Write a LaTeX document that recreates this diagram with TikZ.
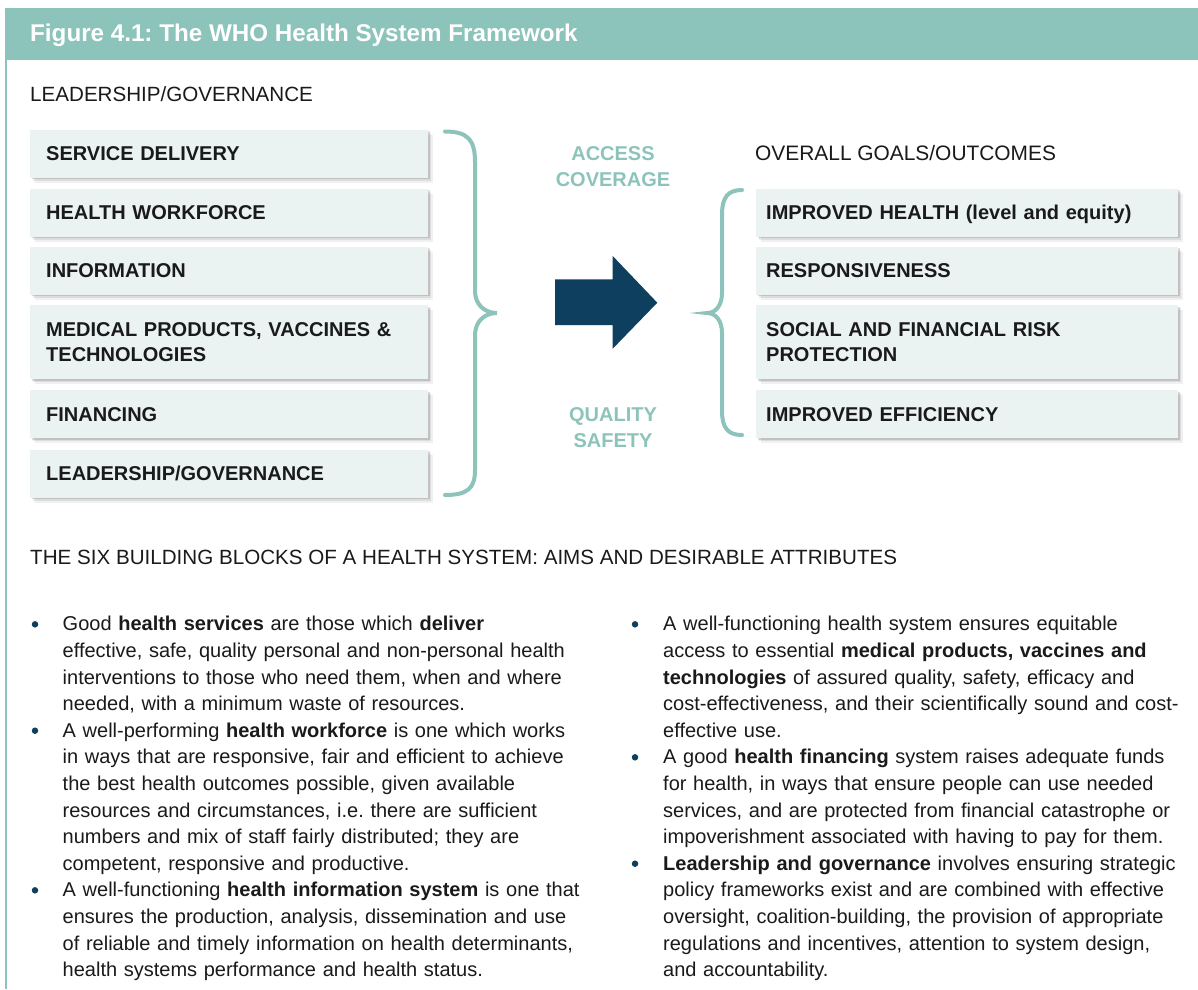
\documentclass[tikz,border=0pt]{standalone}
\usepackage{fontspec}
\setmainfont{Liberation Sans}
\usetikzlibrary{shadows}
\frenchspacing
\definecolor{whoteal}{HTML}{8CC4BB}
\definecolor{whonavy}{HTML}{0E3F5E}
\definecolor{boxfill}{HTML}{EAF3F2}
\definecolor{ink}{HTML}{1A1A1A}
\newcommand{\capstrut}{\rule[-4pt]{0pt}{22pt}}
\tikzset{
  softshadow/.style={drop shadow={shadow xshift=1.5pt,shadow yshift=-1.5pt,opacity=.12,fill=black},
    drop shadow={shadow xshift=3pt,shadow yshift=-3pt,opacity=.08,fill=black},
    drop shadow={shadow xshift=5pt,shadow yshift=-5pt,opacity=.06,fill=black}},
  block/.style={anchor=north west, fill=boxfill, softshadow, minimum height=48pt,
    text width=366pt, inner xsep=16pt, inner ysep=0pt, align=left, text=ink,
    font=\fontsize{20}{25.5}\selectfont\bfseries,
    execute at begin node=\capstrut, execute at end node=\capstrut},
  goal/.style={block, text width=402pt, inner xsep=10pt},
  brace/.style={draw=whoteal, line width=4pt, line cap=round},
  flow/.style={anchor=base, text width=160pt, align=center, inner sep=0pt, text=whoteal,
    font=\fontsize{20}{26}\selectfont\bfseries},
  heading/.style={anchor=base west, inner sep=0pt, text=ink, font=\fontsize{20.6}{24}\selectfont},
  para/.style={anchor=base west, inner sep=0pt, text width=560pt, align=left, text=ink,
    font=\fontsize{20}{26.6}\selectfont},
  dot/.style={circle, fill=whonavy, inner sep=0pt, minimum size=6.5pt}
}
\begin{document}
\begin{tikzpicture}[x=1pt,y=-1pt]
  \path[use as bounding box, fill=white] (0,0) rectangle (1198,989);
  \fill[whoteal] (5,8) rectangle (1198,60);
  \draw[whoteal, line width=1.5pt] (5.75,60) -- (5.75,989);
  \node[anchor=base west, inner sep=0pt, text=white, font=\fontsize{24.2}{28}\selectfont\bfseries]
    (title) at (30,41.5) {Figure 4.1: The WHO Health System Framework};

  \node[heading] (lead) at (30,101) {LEADERSHIP/GOVERNANCE};
  \node[block] (sd) at (30,129.5) {SERVICE DELIVERY};
  \node[block] (hw) at (30,188.3) {HEALTH WORKFORCE};
  \node[block] (info) at (30,246.5) {INFORMATION};
  \node[block, minimum height=74pt] (med) at (30,305) {MEDICAL PRODUCTS, VACCINES \&\\TECHNOLOGIES};
  \node[block] (fin) at (30,390) {FINANCING};
  \node[block] (lg) at (30,449.3) {LEADERSHIP/GOVERNANCE};

  \draw[brace] (445,131.5) .. controls (468,131.5) and (475,140) .. (475,162) -- (475,291)
    .. controls (475,304) and (484,313) .. (497,313) .. controls (484,313) and (475,322) .. (475,335)
    -- (475,470) .. controls (475,488) and (468,495) .. (445,495);

  \node[flow] (access) at (613,160.2) {ACCESS\\COVERAGE};
  \node[flow] (quality) at (613,421) {QUALITY\\SAFETY};
  \fill[whonavy] (555,279.3) -- (612.7,279.3) -- (612.7,256) -- (657.3,302.7) -- (612.7,348.7)
    -- (612.7,325) -- (555,325) -- cycle;

  \draw[brace] (742,190) .. controls (728,190) and (722,197) .. (722,215) -- (722,293)
    .. controls (722,305) and (716,313) .. (707,313) .. controls (716,313) and (722,321) .. (722,333)
    -- (722,411) .. controls (722,428) and (728,435) .. (742,435);

  \node[heading, font=\fontsize{20.9}{24}\selectfont] (goals) at (755,160) {OVERALL GOALS/OUTCOMES};
  \node[goal] (imph) at (756,188.3) {IMPROVED HEALTH (level and equity)};
  \node[goal] (resp) at (756,246.5) {RESPONSIVENESS};
  \node[goal, minimum height=74pt] (risk) at (756,305) {SOCIAL AND FINANCIAL RISK\\PROTECTION};
  \node[goal] (eff) at (756,390) {IMPROVED EFFICIENCY};

  \node[heading] (blocks) at (30,564) {THE SIX BUILDING BLOCKS OF A HEALTH SYSTEM: AIMS AND DESIRABLE ATTRIBUTES};

  \node[dot] (b1) at (35,624.3) {};
  \node[para] (services) at (62.5,630.8) {Good \textbf{health services} are those which \textbf{deliver}\\
    effective, safe, quality personal and non-personal health\\
    interventions to those who need them, when and where\\
    needed, with a minimum waste of resources.};
  \node[dot] (b2) at (35,730.7) {};
  \node[para] (workforce) at (62.5,737.2) {A well-performing \textbf{health workforce} is one which works\\
    in ways that are responsive, fair and efficient to achieve\\
    the best health outcomes possible, given available\\
    resources and circumstances, i.e. there are sufficient\\
    numbers and mix of staff fairly distributed; they are\\
    competent, responsive and productive.};
  \node[dot] (b3) at (35,890.3) {};
  \node[para] (hinfo) at (62.5,896.8) {A well-functioning \textbf{health information system} is one that\\
    ensures the production, analysis, dissemination and use\\
    of reliable and timely information on health determinants,\\
    health systems performance and health status.};

  \node[dot] (b4) at (635,624.3) {};
  \node[para] (products) at (663,630.8) {A well-functioning health system ensures equitable\\
    access to essential \textbf{medical products, vaccines and}\\
    \textbf{technologies} of assured quality, safety, efficacy and\\
    cost-effectiveness, and their scientifically sound and cost-\\
    effective use.};
  \node[dot] (b5) at (635,757.3) {};
  \node[para] (financing) at (663,763.8) {A good \textbf{health financing} system raises adequate funds\\
    for health, in ways that ensure people can use needed\\
    services, and are protected from financial catastrophe or\\
    impoverishment associated with having to pay for them.};
  \node[dot] (b6) at (635,863.7) {};
  \node[para] (governance) at (663,870.2) {\textbf{Leadership and governance} involves ensuring strategic\\
    policy frameworks exist and are combined with effective\\
    oversight, coalition-building, the provision of appropriate\\
    regulations and incentives, attention to system design,\\
    and accountability.};
\end{tikzpicture}
\end{document}
